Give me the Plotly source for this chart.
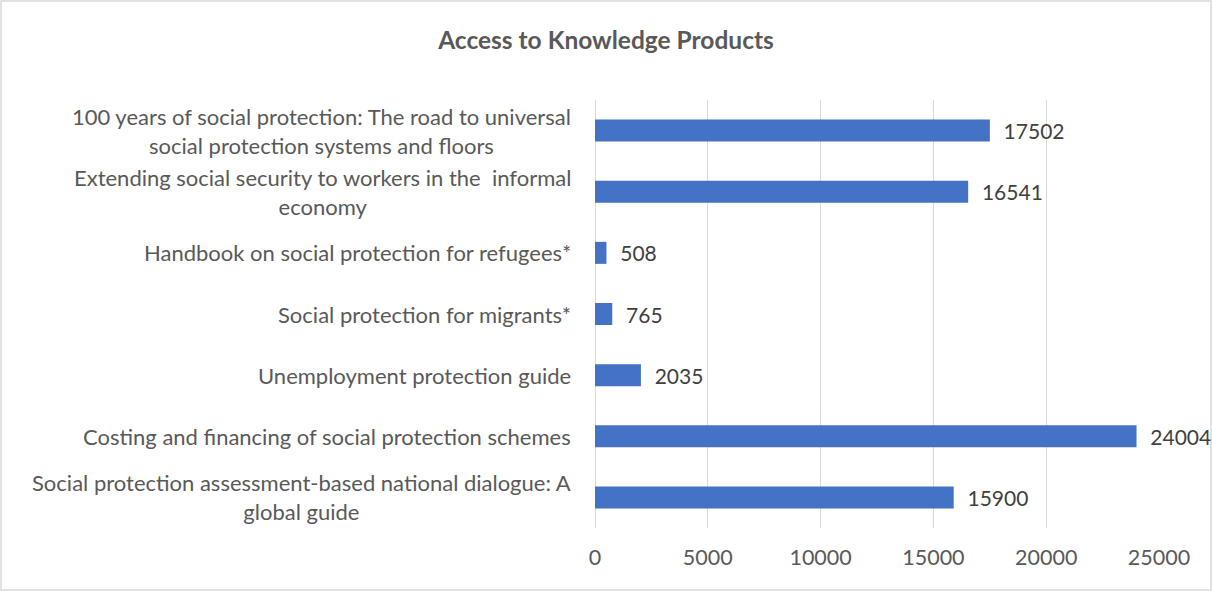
import plotly.graph_objects as go

categories = [
    "100 years of social protection: The road to universal<br>social protection systems and floors",
    "Extending social security to workers in the  informal<br>economy",
    "Handbook on social protection for refugees*",
    "Social protection for migrants*",
    "Unemployment protection guide",
    "Costing and financing of social protection schemes",
    "Social protection assessment-based national dialogue: A<br>global guide",
]
values = [17502, 16541, 508, 765, 2035, 24004, 15900]
x_ticks = [0, 5000, 10000, 15000, 20000, 25000]

FONT = "Lato"
TXT = "#595959"

fig = go.Figure()
fig.add_trace(go.Bar(
    y=categories, x=values, orientation="h",
    marker=dict(color="#4472C4", line=dict(width=0)),
    text=[f"  {v}" for v in values], textposition="outside",
    constraintext="none",
    textfont=dict(family=FONT, size=21, color="#404040"),
    cliponaxis=False,
))

for c in categories:
    fig.add_annotation(x=0, y=c, xref="paper", yref="y", text=c,
                       showarrow=False, xanchor="right", align="center",
                       xshift=-22, font=dict(family=FONT, size=22, color=TXT))

fig.update_layout(
    width=1212, height=591,
    margin=dict(l=595, r=53, t=100, b=63),
    paper_bgcolor="white", plot_bgcolor="white",
    showlegend=False, bargap=0.64,
    title=dict(text="<b>Access to Knowledge Products</b>", x=0.5, xanchor="center",
               y=0.932, yanchor="middle",
               font=dict(family=FONT, size=24.5, color=TXT)),
    xaxis=dict(range=[0, 25000], tickvals=x_ticks, ticktext=[str(t) for t in x_ticks],
               showgrid=True, gridcolor="#d9d9d9", gridwidth=1,
               zeroline=True, zerolinecolor="#d9d9d9", zerolinewidth=1,
               showline=False, ticks="", ticklabelstandoff=14,
               tickfont=dict(family=FONT, size=21.5, color=TXT)),
    yaxis=dict(autorange="reversed", showticklabels=False, showgrid=False,
               zeroline=False, showline=False, ticks=""),
    shapes=[dict(type="rect", xref="paper", yref="paper",
                 x0=(1 - 595) / 564, x1=(1211 - 595) / 564,
                 y0=(528 - 590) / 428, y1=(528 - 1) / 428,
                 line=dict(color="#d9d9d9", width=1.5), layer="below")],
)

fig.write_html("out.html", config={"displayModeBar": False})

with open("out.html", "r", encoding="utf-8") as f:
    html = f.read()
html = html.replace("<head>", "<head><style>html,body{margin:0;padding:0;overflow:hidden}</style>", 1)
with open("out.html", "w", encoding="utf-8") as f:
    f.write(html)
